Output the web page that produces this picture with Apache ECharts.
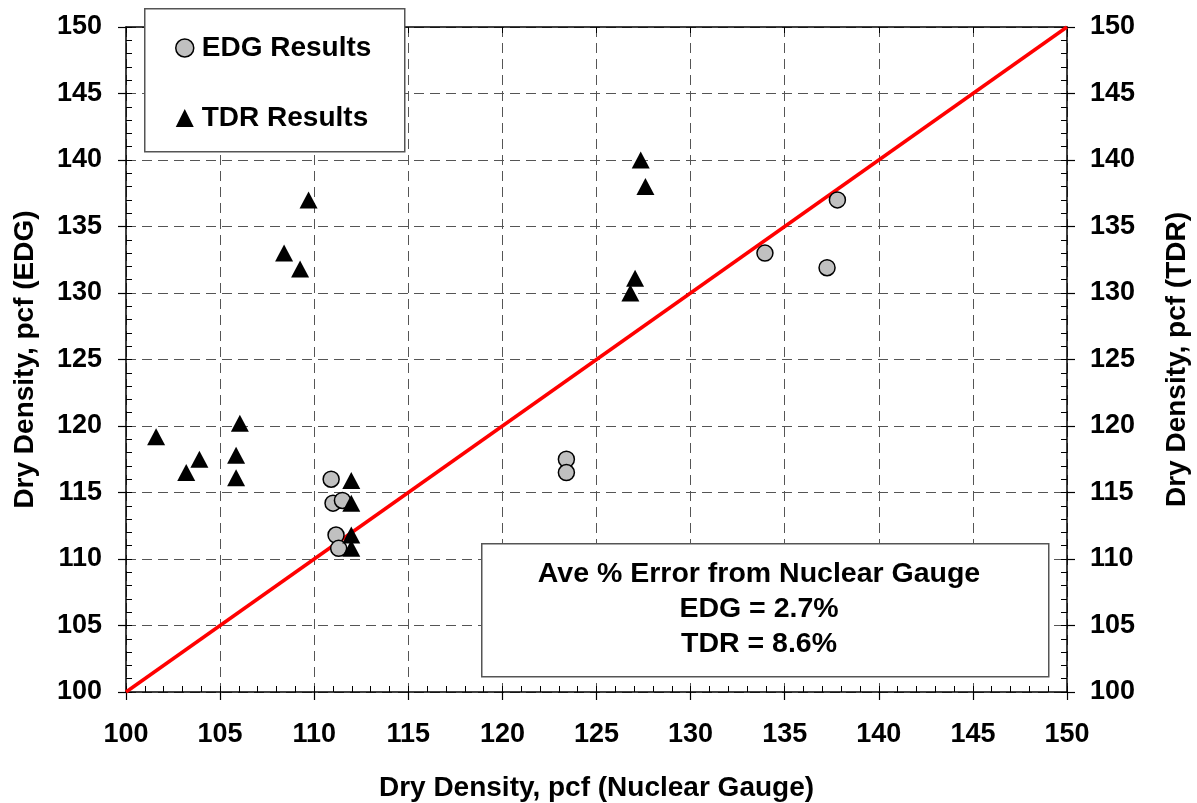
<!DOCTYPE html>
<html>
<head>
<meta charset="utf-8">
<script src="https://cdn.jsdelivr.net/npm/echarts@6/dist/echarts.min.js"></script>
<style>html,body{margin:0;padding:0;background:#fff;}#c{width:1197px;height:803px;}</style>
</head>
<body>
<div id="c"></div>
<script>
const edgX = [110.9, 111.0, 111.5, 111.16, 111.3, 123.4, 123.4, 133.95, 137.25, 137.8];
const edgY = [116.0, 114.2, 114.4, 111.8, 110.8, 117.5, 116.5, 133.0, 131.9, 137.0];
const tdrX = [101.6, 103.2, 103.9, 105.85, 105.85, 106.05, 108.4, 109.25, 109.7, 111.97, 111.97, 111.97, 111.97, 127.35, 127.6, 127.05, 126.8];
const tdrY = [119.2, 116.5, 117.5, 117.8, 116.1, 120.2, 133.0, 131.8, 137.0, 115.9, 114.2, 111.8, 110.8, 140.0, 138.0, 131.1, 130.0];
const lineX = [100, 150];
const lineY = [100, 150];
const axisMin = 100, axisMax = 150, axisStep = 5;
const annotationLines = ['Ave % Error from Nuclear Gauge', 'EDG = 2.7%', 'TDR = 8.6%'];

const FONT = 'Liberation Sans, Arial, sans-serif';
const lbl = {fontFamily: FONT, fontWeight: 'bold', fontSize: 27, color: '#000'};
const nameLbl = {fontFamily: FONT, fontWeight: 'bold', fontSize: 28, color: '#000'};
const dashed = {show: true, lineStyle: {color: '#555', type: [10, 6], width: 1}};

function pairs(xs, ys) { return xs.map((x, i) => [x, ys[i]]); }

const chart = echarts.init(document.getElementById('c'), null, {renderer: 'canvas'});
chart.setOption({
  animation: false,
  backgroundColor: '#fff',
  grid: {left: 126, right: 130, top: 27, bottom: 111, containLabel: false, outerBoundsMode: 'none'},
  xAxis: [
    {type: 'value', min: axisMin, max: axisMax, interval: axisStep, position: 'bottom',
     name: 'Dry Density, pcf (Nuclear Gauge)', nameLocation: 'middle', nameGap: 82,
     nameTextStyle: nameLbl,
     axisLine: {show: true, lineStyle: {color: '#000', width: 1.5}},
     axisTick: {show: true, inside: false, length: 8, lineStyle: {color: '#000', width: 1.2}},
     axisLabel: Object.assign({margin: 29}, lbl),
     splitLine: dashed},
    {type: 'value', min: axisMin, max: axisMax, interval: 1, position: 'bottom',
     axisLine: {show: false}, axisLabel: {show: false}, splitLine: {show: false},
     axisTick: {show: true, inside: true, length: 6, lineStyle: {color: '#000', width: 1}}},
    {type: 'value', min: axisMin, max: axisMax, interval: axisStep, position: 'top',
     axisLine: {show: true, onZero: false, lineStyle: {color: '#000', width: 1.5}},
     axisLabel: {show: false}, splitLine: {show: false},
     axisTick: {show: true, inside: true, length: 6, lineStyle: {color: '#000', width: 1}}}
  ],
  yAxis: [
    {type: 'value', min: axisMin, max: axisMax, interval: axisStep, position: 'left',
     name: 'Dry Density, pcf (EDG)', nameLocation: 'middle', nameGap: 87, nameRotate: 90,
     nameTextStyle: nameLbl,
     axisLine: {show: true, onZero: false, lineStyle: {color: '#000', width: 1.5}},
     axisTick: {show: true, inside: false, length: 8, lineStyle: {color: '#000', width: 1.2}},
     axisLabel: Object.assign({margin: 24}, lbl),
     splitLine: dashed},
    {type: 'value', min: axisMin, max: axisMax, interval: axisStep, position: 'right',
     name: 'Dry Density, pcf (TDR)', nameLocation: 'middle', nameGap: 96, nameRotate: 90,
     nameTextStyle: nameLbl,
     axisLine: {show: true, onZero: false, lineStyle: {color: '#000', width: 1.5}},
     axisTick: {show: true, inside: false, length: 8, lineStyle: {color: '#000', width: 1.2}},
     axisLabel: Object.assign({margin: 23}, lbl),
     splitLine: {show: false}},
    {type: 'value', min: axisMin, max: axisMax, interval: 1, position: 'left',
     axisLine: {show: false}, axisLabel: {show: false}, splitLine: {show: false},
     axisTick: {show: true, inside: true, length: 6, lineStyle: {color: '#000', width: 1}}},
    {type: 'value', min: axisMin, max: axisMax, interval: 1, position: 'right',
     axisLine: {show: false}, axisLabel: {show: false}, splitLine: {show: false},
     axisTick: {show: true, inside: true, length: 6, lineStyle: {color: '#000', width: 1}}}
  ],
  legend: {
    show: true, orient: 'vertical', left: 175, top: 32, itemGap: 38,
    itemWidth: 18, itemHeight: 18, z: 10, padding: 0,
    textStyle: Object.assign({}, lbl, {fontSize: 28, lineHeight: 32, padding: [0, 0, 0, 3]}),
    data: [
      {name: 'EDG Results', icon: 'circle', itemStyle: {color: '#c0c0c0', borderColor: '#000', borderWidth: 1.5}},
      {name: 'TDR Results', icon: 'triangle', itemStyle: {color: '#000'}}
    ]
  },
  series: [
    {name: '1:1', type: 'line', data: pairs(lineX, lineY), symbol: 'none',
     lineStyle: {color: '#ff0000', width: 3.5}, z: 2, silent: true},
    {name: 'EDG Results', type: 'scatter', data: pairs(edgX, edgY), symbol: 'circle', symbolSize: 16,
     itemStyle: {color: '#c0c0c0', borderColor: '#000', borderWidth: 1.5, opacity: 1}, z: 3},
    {name: 'TDR Results', type: 'scatter', data: pairs(tdrX, tdrY), symbol: 'triangle', symbolSize: [18, 17],
     itemStyle: {color: '#000', opacity: 1}, z: 4}
  ],
  graphic: [
    {type: 'rect', left: 144, top: 8, z: 8,
     shape: {width: 260, height: 143},
     style: {fill: '#fff', stroke: '#555', lineWidth: 1.5}},
    {type: 'rect', left: 481, top: 543, z: 8,
     shape: {width: 567, height: 133},
     style: {fill: '#fff', stroke: '#555', lineWidth: 1.5}},
    {type: 'text', x: 759, y: 574, z: 9,
     style: {text: annotationLines[0], fill: '#000', font: 'bold 28.5px ' + FONT, textAlign: 'center', textVerticalAlign: 'middle'}},
    {type: 'text', x: 759, y: 609, z: 9,
     style: {text: annotationLines[1], fill: '#000', font: 'bold 28.5px ' + FONT, textAlign: 'center', textVerticalAlign: 'middle'}},
    {type: 'text', x: 759, y: 644, z: 9,
     style: {text: annotationLines[2], fill: '#000', font: 'bold 28.5px ' + FONT, textAlign: 'center', textVerticalAlign: 'middle'}}
  ]
});
</script>
</body>
</html>
